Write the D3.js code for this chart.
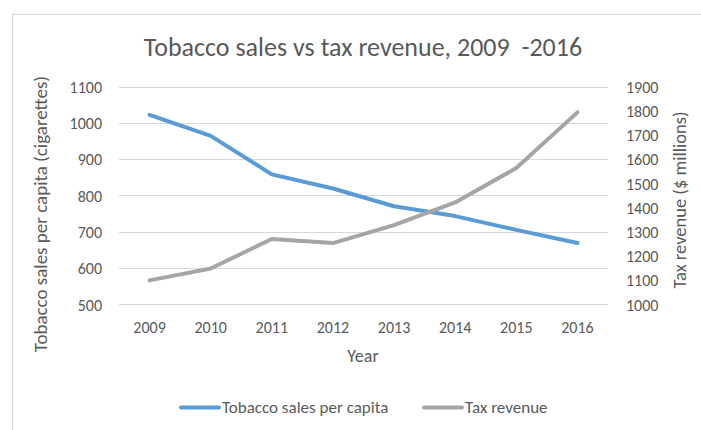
<!DOCTYPE html>
<html>
<head>
<meta charset="utf-8">
<script src="https://cdn.jsdelivr.net/npm/d3@7"></script>
<style>
  html, body { margin: 0; padding: 0; background: #fff; }
  svg { display: block; }
  text { font-family: Carlito, Calibri, Lato, sans-serif; fill: #595959; }
</style>
</head>
<body>
<script>
// Data
const years = ["2009", "2010", "2011", "2012", "2013", "2014", "2015", "2016"];
const salesPerCapita = [1022, 964, 858, 819, 770, 743, 705, 669];
const taxRevenue = [1099, 1148, 1270, 1253, 1327, 1421, 1563, 1793];
const leftTicks = [500, 600, 700, 800, 900, 1000, 1100];
const rightTicks = [1000, 1100, 1200, 1300, 1400, 1500, 1600, 1700, 1800, 1900];

const W = 701, H = 430;
const plot = { left: 119, right: 608, top: 86.5, bottom: 304.3 };

const svg = d3.select("body").append("svg").attr("width", W).attr("height", H);

// chart frame
svg.append("rect")
  .attr("x", 12.5).attr("y", 14.5)
  .attr("width", 720).attr("height", 440)
  .attr("fill", "#fff").attr("stroke", "#D9D9D9");

const x = d3.scaleBand().domain(years).range([plot.left, plot.right]);
const yL = d3.scaleLinear().domain([500, 1100]).range([plot.bottom, plot.top]);
const yR = d3.scaleLinear().domain([1000, 1900]).range([plot.bottom, plot.top]);

// gridlines
svg.append("g").selectAll("line").data(leftTicks).join("line")
  .attr("x1", plot.left).attr("x2", plot.right)
  .attr("y1", d => Math.round(yL(d)) + 0.5).attr("y2", d => Math.round(yL(d)) + 0.5)
  .attr("stroke", "#D9D9D9").attr("stroke-width", 1);

// left axis
const gL = svg.append("g")
  .attr("transform", `translate(${plot.left},0)`)
  .call(d3.axisLeft(yL).tickValues(leftTicks).tickSize(0).tickPadding(17).tickFormat(d3.format("d")));
gL.select(".domain").remove();
gL.selectAll("text").style("font-size", "16px").attr("dy", "0.36em");

// right axis
const gR = svg.append("g")
  .attr("transform", `translate(${plot.right},0)`)
  .call(d3.axisRight(yR).tickValues(rightTicks).tickSize(0).tickPadding(18).tickFormat(d3.format("d")));
gR.select(".domain").remove();
gR.selectAll("text").style("font-size", "16px").attr("dy", "0.36em");

// bottom axis
const gB = svg.append("g")
  .attr("transform", `translate(0,${plot.bottom})`)
  .call(d3.axisBottom(x).tickSize(0).tickPadding(17));
gB.select(".domain").remove();
gB.selectAll("text").style("font-size", "16px").attr("dy", "0.71em");

// series lines
const cx = d => x(d) + x.bandwidth() / 2;
const lineL = d3.line().x((d, i) => cx(years[i])).y(d => yL(d));
const lineR = d3.line().x((d, i) => cx(years[i])).y(d => yR(d));

svg.append("path").datum(salesPerCapita)
  .attr("d", lineL).attr("fill", "none")
  .attr("stroke", "#5B9BD5").attr("stroke-width", 4)
  .attr("stroke-linecap", "round").attr("stroke-linejoin", "round");

svg.append("path").datum(taxRevenue)
  .attr("d", lineR).attr("fill", "none")
  .attr("stroke", "#A5A5A5").attr("stroke-width", 4)
  .attr("stroke-linecap", "round").attr("stroke-linejoin", "round");

// title
svg.append("text")
  .attr("x", 363).attr("y", 56)
  .attr("text-anchor", "middle")
  .style("font-size", "26px")
  .style("white-space", "pre")
  .text("Tobacco sales vs tax revenue, 2009  -2016");

// axis titles
svg.append("text")
  .attr("transform", "translate(47,214) rotate(-90)")
  .attr("text-anchor", "middle")
  .style("font-size", "19px")
  .text("Tobacco sales per capita (cigarettes)");

svg.append("text")
  .attr("transform", "translate(686,200) rotate(-90)")
  .attr("text-anchor", "middle")
  .style("font-size", "18.5px")
  .text("Tax revenue ($ millions)");

svg.append("text")
  .attr("x", 363).attr("y", 362)
  .attr("text-anchor", "middle")
  .style("font-size", "18px")
  .text("Year");

// legend
const legendItems = [
  { name: "Tobacco sales per capita", color: "#5B9BD5", x: 180 },
  { name: "Tax revenue", color: "#A5A5A5", x: 423 }
];
const lg = svg.append("g").selectAll("g").data(legendItems).join("g")
  .attr("transform", d => `translate(${d.x},407.5)`);
lg.append("line")
  .attr("x1", 1).attr("x2", 39)
  .attr("stroke", d => d.color).attr("stroke-width", 4)
  .attr("stroke-linecap", "round");
lg.append("text")
  .attr("x", 42).attr("y", 5)
  .style("font-size", "17px")
  .text(d => d.name);
</script>
</body>
</html>
